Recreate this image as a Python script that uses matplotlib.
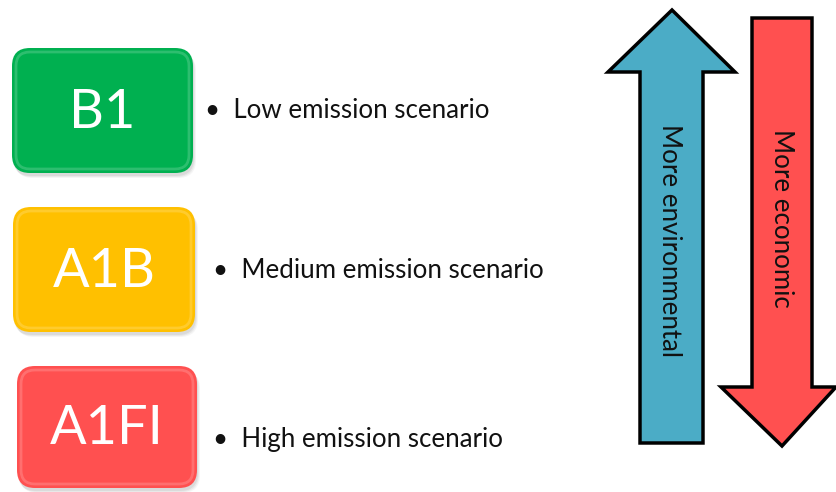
import matplotlib
matplotlib.use("Agg")
import matplotlib.pyplot as plt
from matplotlib.patches import FancyBboxPatch, Polygon

# ---- content ----
scenarios = ["B1", "A1B", "A1FI"]
descriptions = ["Low emission scenario", "Medium emission scenario", "High emission scenario"]
box_colors = ["#00B050", "#FFC000", "#FF5050"]
arrow_labels = ["More environmental", "More economic"]
arrow_colors = ["#4BACC6", "#FF5050"]

# ---- layout (pixels, y down) ----
W, H = 836, 492
box_rects = [(12, 48, 181, 125), (13, 207, 182, 125), (17, 366, 180, 122)]
desc_pos = [(205, 111), (213, 270), (213, 440)]

fig = plt.figure(figsize=(W / 100, H / 100), dpi=100)
ax = fig.add_axes([0, 0, 1, 1])
ax.set_xlim(0, W)
ax.set_ylim(H, 0)
ax.axis("off")

font = ["Lato", "DejaVu Sans"]

for (x, y, w, h), lab, col in zip(box_rects, scenarios, box_colors):
    # soft shadow
    for k, a in enumerate([0.06, 0.05, 0.04]):
        sh = FancyBboxPatch((x + 1 + k, y + 3 + k), w, h, boxstyle="round,pad=0,rounding_size=18",
                            facecolor="#000000", alpha=a, edgecolor="none", zorder=1)
        ax.add_patch(sh)
    p = FancyBboxPatch((x, y), w, h, boxstyle="round,pad=0,rounding_size=18",
                       facecolor=col, edgecolor="none", zorder=2)
    ax.add_patch(p)
    # subtle highlight rim
    rim = FancyBboxPatch((x + 4, y + 4), w - 8, h - 8, boxstyle="round,pad=0,rounding_size=14",
                         facecolor="none", edgecolor="white", alpha=0.18, lw=2, zorder=3)
    ax.add_patch(rim)
    ax.text(x + w / 2, y + h / 2 + 2, lab, color="white", fontsize=39, ha="center",
            va="center", family=font, zorder=4)

for (x, y), d in zip(desc_pos, descriptions):
    ax.text(x, y, "\u2022  " + d, fontsize=18.6, ha="left", va="center",
            color="#111111", family=font)

# up arrow (environmental)
up = [(640, 443), (640, 72), (608, 72), (672, 10), (735, 72), (703, 72), (703, 443)]
ax.add_patch(Polygon(up, closed=True, facecolor=arrow_colors[0], edgecolor="black",
                     lw=2.5, joinstyle="miter", zorder=2))
# down arrow (economic)
down = [(752, 18), (812, 18), (812, 387), (836, 387), (782, 446), (721, 387), (752, 387)]
ax.add_patch(Polygon(down, closed=True, facecolor=arrow_colors[1], edgecolor="black",
                     lw=2.5, joinstyle="miter", zorder=2, clip_on=True))

ax.text(670, 240, arrow_labels[0], rotation=-90, fontsize=18.6, ha="center", va="center",
        color="#111111", family=font, zorder=3)
ax.text(782, 218, arrow_labels[1], rotation=-90, fontsize=18.6, ha="center", va="center",
        color="#111111", family=font, zorder=3)

fig.savefig("out.png", dpi=100)
